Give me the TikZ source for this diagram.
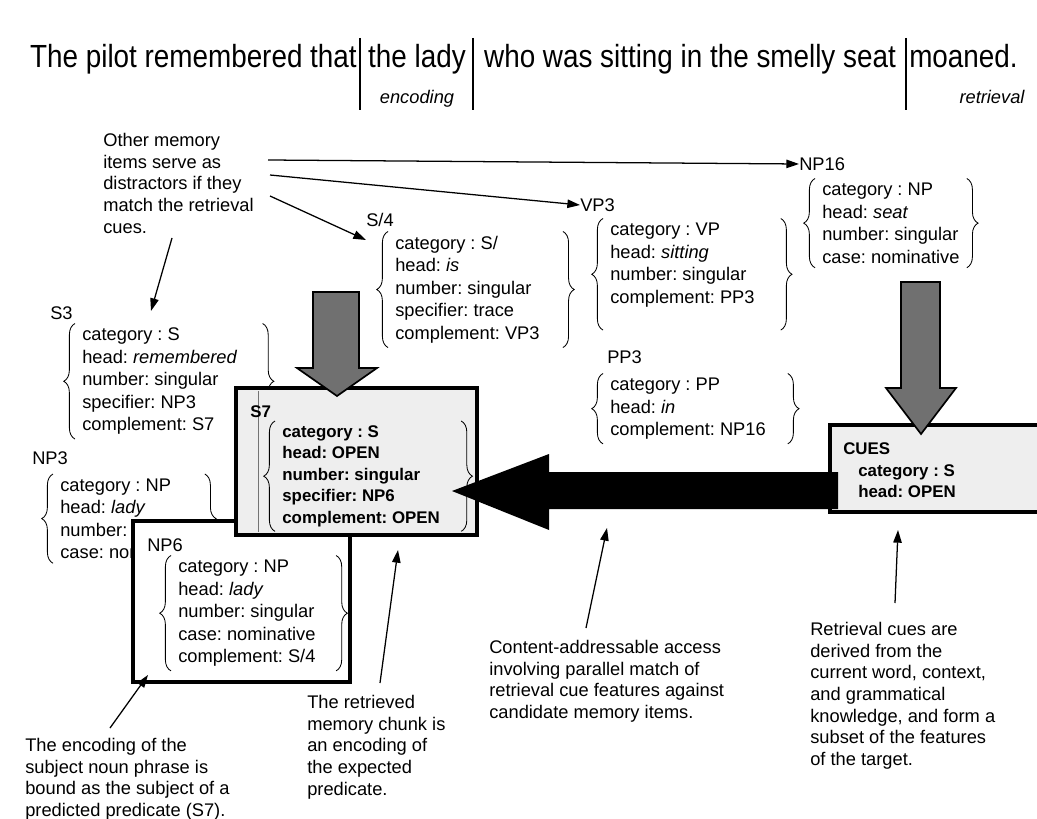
\documentclass[tikz,border=0pt]{standalone}
\usepackage{fontspec}
\setmainfont{Liberation Sans}
\usetikzlibrary{arrows.meta,positioning,fit,calc,decorations.pathreplacing}
\definecolor{cuegray}{RGB}{112,112,112}
\definecolor{chunkfill}{RGB}{238,238,238}
\newcommand{\fsfont}{\fontsize{13}{16}\selectfont}
\newcommand{\notefont}{\fontsize{13}{15.4}\selectfont}
\newcommand{\cuefont}{\fontsize{12}{15.3}\selectfont\bfseries}
\newcommand{\titlefont}{\fontsize{19.8}{23}\selectfont}
\newcommand{\tall}[1]{\scalebox{1}[1.15]{#1}}

\tikzset{
  fs/.style={anchor=north west,align=flush left,font=\fsfont,inner xsep=5pt,inner ysep=3pt},
  fslabel/.style={anchor=west,font=\fsfont,inner sep=0pt},
  note/.style={anchor=north west,align=flush left,font=\notefont,inner sep=0pt},
  brc/.style={decorate,decoration={brace,amplitude=8pt},line width=0.6pt},
  chunk/.style={draw,line width=2.6pt,fill=chunkfill,inner sep=0pt},
  ptr/.style={-{Triangle[length=9pt,width=6pt]},line width=0.9pt},
  cuearrow/.style={fill=cuegray,draw=black,line width=1.2pt},
}

\begin{document}
\frenchspacing
\begin{tikzpicture}[x=0.025cm,y=-0.025cm]
  \useasboundingbox (0,0) rectangle (1037,819);

  % sentence
  \node[anchor=base east,font=\titlefont,inner sep=0pt] (t1) at (357,68) {\tall{The pilot remembered that}};
  \node[anchor=base,font=\titlefont,inner sep=0pt] (t2) at (417,68) {\tall{the lady}};
  \node[anchor=base,font=\titlefont,inner sep=0pt] (t3) at (690,68) {\tall{who was sitting in the smelly seat}};
  \node[anchor=base west,font=\titlefont,inner sep=0pt] (t4) at (909,68) {\tall{moaned.}};
  \draw[line width=0.8pt] (360,38) -- (360,110);
  \draw[line width=0.8pt] (473,38) -- (473,110);
  \draw[line width=0.8pt] (906,38) -- (906,110);
  \node[anchor=base,font=\fsfont\itshape] (enc) at (417,104) {encoding};
  \node[anchor=base,font=\fsfont\itshape] (ret) at (992,104) {retrieval};

  % notes
  \node[note] (other) at (103,133)
    {Other memory\\items serve as\\distractors if they\\match the retrieval\\cues.};
  \node[note] (bound) at (25,738)
    {The encoding of the\\subject noun phrase is\\bound as the subject of a\\predicted predicate (S7).};
  \node[note] (chunknote) at (307,695)
    {The retrieved\\memory chunk is\\an encoding of\\the expected\\predicate.};
  \node[note] (access) at (489,640)
    {Content-addressable access\\involving parallel match of\\retrieval cue features against\\candidate memory items.};
  \node[note] (cuenote) at (810,622)
    {Retrieval cues are\\derived from the\\current word, context,\\and grammatical\\knowledge, and form a\\subset of the features\\of the target.};

  % memory items
  \node[fs,text width=114pt] (s4) at (388,231.5)
    {category : S/\\head: \textit{is}\\number: singular\\specifier: trace\\complement: VP3};
  \node[fslabel] (s4lab) at (366,220) {S/4};
  \draw[brc] (s4.south west) -- (s4.north west);
  \draw[brc] (s4.north east) -- (s4.south east);

  \node[fs,text width=116pt] (vp3) at (603,218.5)
    {category : VP\\head: \textit{sitting}\\number: singular\\complement: PP3\\\mbox{}};
  \node[fslabel] (vp3lab) at (580,205) {VP3};
  \draw[brc] (vp3.south west) -- (vp3.north west);
  \draw[brc] (vp3.north east) -- (vp3.south east);

  \node[fs] (np16) at (815,178.5)
    {category : NP\\head: \textit{seat}\\number: singular\\case: nominative};
  \node[fslabel] (np16lab) at (799,164) {NP16};
  \draw[brc] (np16.south west) -- (np16.north west);
  \draw[brc] (np16.north east) -- (np16.south east);

  \node[fs,text width=121pt] (pp3) at (603,373.5)
    {category : PP\\head: \textit{in}\\complement: NP16};
  \node[fslabel] (pp3lab) at (607,357) {PP3};
  \draw[brc] (pp3.south west) -- (pp3.north west);
  \draw[brc] (pp3.north east) -- (pp3.south east);

  \node[fs,text width=123pt] (s3) at (75,323.5)
    {category : S\\head: \textit{remembered}\\number: singular\\specifier: NP3\\complement: S7};
  \node[fslabel] (s3lab) at (50,313) {S3};
  \draw[brc] (s3.south west) -- (s3.north west);
  \draw[brc] (s3.north east) -- (s3.south east);

  \node[fs] (np3) at (53,474)
    {category : NP\\head: \textit{lady}\\number: singular\\case: nominative};
  \node[fslabel] (np3lab) at (32,458) {NP3};
  \draw[brc] (np3.south west) -- (np3.north west);
  \draw[brc] (np3.north east) -- (np3.south east);

  % encoded subject
  \node[chunk,fill=white,fit={(133,521) (350,682)}] (np6box) {};
  \node[fs,text width=107pt] (np6) at (171,555.5)
    {category : NP\\head: \textit{lady}\\number: singular\\case: nominative\\complement: S/4};
  \node[fslabel] (np6lab) at (147,545) {NP6};
  \draw[brc] (np6.south west) -- (np6.north west);
  \draw[brc] (np6.north east) -- (np6.south east);

  % retrieved chunk
  \node[chunk,fit={(236,388) (477,535)}] (s7box) {};
  \draw[black!55,line width=0.5pt] (258,391) -- (258,532);
  \node[fs,font=\cuefont,text width=122pt] (s7) at (275,421)
    {category : S\\head: OPEN\\number: singular\\specifier: NP6\\complement: OPEN};
  \node[fslabel,font=\cuefont] (s7lab) at (250,412) {S7};
  \draw[brc] (s7.south west) -- (s7.north west);
  \draw[brc] (s7.north east) -- (s7.south east);

  % cues
  \node[chunk,fit={(830,425) (1060,512)}] (cuebox) {};
  \node[fslabel,font=\cuefont] (cueslab) at (843,449) {CUES};
  \node[note,font=\cuefont] (cues) at (858,464) {category : S\\head: OPEN};

  % block arrows
  \filldraw[cuearrow] (313,292) -- (359,292) -- (359,368) -- (377,368) -- (337,396)
    -- (297,368) -- (313,368) -- cycle;
  \filldraw[cuearrow] (901,282) -- (940,282) -- (940,388) -- (956,388) -- (921,434)
    -- (886,388) -- (901,388) -- cycle;
  \fill (838,472) -- (549,472) -- (549,454) -- (452,491) -- (549,530) -- (549,509)
    -- (838,509) -- cycle;

  % pointers
  \coordinate (o1) at (268,160);
  \coordinate (o2) at (270,175);
  \coordinate (o3) at (270,196);
  \coordinate (o4) at (172,238);
  \coordinate (s4pt) at (366,240);
  \coordinate (s3pt) at (151,311);
  \draw[ptr] (o1) -- (np16lab.west);
  \draw[ptr] (o2) -- (vp3lab.west);
  \draw[ptr] (o3) -- (s4pt);
  \draw[ptr] (o4) -- (s3pt);

  \coordinate (b1) at (110,728);
  \coordinate (b2) at (380,683);
  \coordinate (b3) at (586,628);
  \coordinate (b4) at (895,603);
  \coordinate (np6pt) at (148,675);
  \coordinate (s7pt) at (398,550);
  \coordinate (matchpt) at (607,528);
  \coordinate (cuept) at (898,530);
  \draw[ptr] (b1) -- (np6pt);
  \draw[ptr] (b2) -- (s7pt);
  \draw[ptr] (b3) -- (matchpt);
  \draw[ptr] (b4) -- (cuept);
\end{tikzpicture}
\end{document}
